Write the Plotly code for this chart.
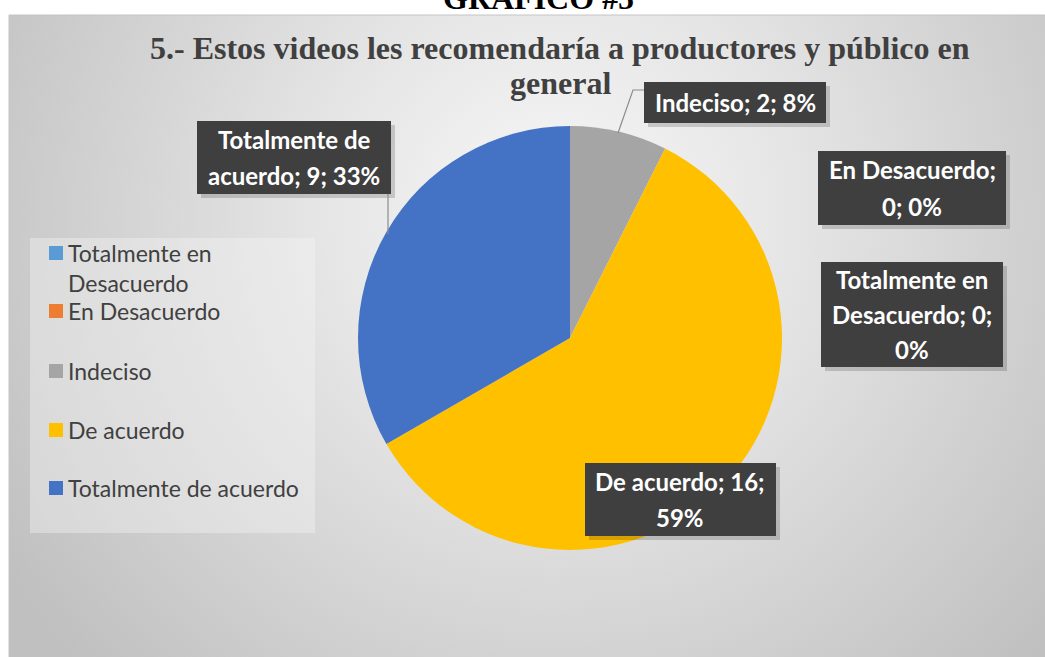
import base64
import plotly.graph_objects as go

# ---------------- data ----------------
categories = ["Totalmente en Desacuerdo", "En Desacuerdo", "Indeciso", "De acuerdo", "Totalmente de acuerdo"]
values = [0, 0, 2, 16, 9]
percent_labels = ["0%", "0%", "8%", "59%", "33%"]
colors = ["#5B9BD5", "#ED7D31", "#A5A5A5", "#FFC000", "#4472C4"]
title_lines = ["5.- Estos videos les recomendaría a productores y público en", "general"]
header_text = "GRÁFICO #5"

W, H = 1045, 657
def px(x):
    return x / W
def py(y):
    return 1 - y / H

# ---------------- background gradient (svg image) ----------------
bx0, by0, bx1, by1 = 9, 15, 1046, 658
bw, bh = bx1 - bx0, by1 - by0
svg = f'''<svg xmlns="http://www.w3.org/2000/svg" width="{bw}" height="{bh}" viewBox="0 0 {bw} {bh}">
<defs><radialGradient id="g" gradientUnits="userSpaceOnUse" cx="545" cy="200" r="650">
<stop offset="0" stop-color="#f7f7f7"/><stop offset="0.35" stop-color="#e6e6e6"/><stop offset="1" stop-color="#c0c0c0"/>
</radialGradient></defs>
<rect x="0" y="0" width="{bw}" height="{bh}" fill="url(#g)"/></svg>'''
svg_uri = "data:image/svg+xml;base64," + base64.b64encode(svg.encode()).decode()

fig = go.Figure()

cx, cy, r = 570, 338, 212
fig.add_trace(go.Pie(
    labels=categories,
    values=values,
    sort=False,
    direction="clockwise",
    rotation=0,
    marker=dict(colors=colors, line=dict(width=0)),
    textinfo="none",
    textposition="none",
    hoverinfo="label+value+percent",
    showlegend=False,
    domain=dict(x=[px(cx - r), px(cx + r)], y=[py(cy + r), py(cy - r)]),
))

shapes = []
annotations = []

# chart border
shapes.append(dict(type="rect", xref="paper", yref="paper", x0=px(bx0), x1=px(bx1), y0=py(by1), y1=py(by0),
                   line=dict(color="#c4c4c4", width=1), fillcolor="rgba(0,0,0,0)", layer="below"))

# ---------------- legend (manual) ----------------
shapes.append(dict(type="rect", xref="paper", yref="paper", x0=px(30), x1=px(315), y0=py(533), y1=py(238),
                   line=dict(width=0), fillcolor="rgba(245,245,245,0.4)", layer="above"))
legend_y = [253, 311, 371, 430, 488]
legend_text = ["Totalmente en<br>Desacuerdo", "En Desacuerdo", "Indeciso", "De acuerdo", "Totalmente de acuerdo"]
for i, cat in enumerate(categories):
    yc = legend_y[i]
    shapes.append(dict(type="rect", xref="paper", yref="paper", x0=px(49), x1=px(63), y0=py(yc + 7), y1=py(yc - 7),
                       line=dict(width=0), fillcolor=colors[i], layer="above"))
    annotations.append(dict(xref="paper", yref="paper", x=px(66), y=py(yc - 16), xanchor="left", yanchor="top",
                            text=legend_text[i], showarrow=False, align="left",
                            font=dict(family="Lato", size=23, color="#404040")))

# ---------------- data labels ----------------
label_boxes = {
    "Indeciso": (644, 82, 826, 123),
    "En Desacuerdo": (818, 151, 1006, 225),
    "Totalmente en Desacuerdo": (821, 262, 1003, 367),
    "De acuerdo": (585, 463, 776, 536),
    "Totalmente de acuerdo": (197, 121, 391, 194),
}
label_lines = {
    "Indeciso": None,
    "En Desacuerdo": ["En Desacuerdo;", "0; 0%"],
    "Totalmente en Desacuerdo": ["Totalmente en", "Desacuerdo; 0;", "0%"],
    "De acuerdo": ["De acuerdo; 16;", "59%"],
    "Totalmente de acuerdo": ["Totalmente de", "acuerdo; 9; 33%"],
}
for i, cat in enumerate(categories):
    x0, y0, x1, y1 = label_boxes[cat]
    shapes.append(dict(type="rect", xref="paper", yref="paper", x0=px(x0 + 4), x1=px(x1 + 4), y0=py(y1 + 4), y1=py(y0 + 4),
                       line=dict(width=0), fillcolor="rgba(0,0,0,0.16)", layer="above"))
    shapes.append(dict(type="rect", xref="paper", yref="paper", x0=px(x0), x1=px(x1), y0=py(y1), y1=py(y0),
                       line=dict(width=0), fillcolor="#3f3f3f", layer="above"))
    full = f"{cat}; {values[i]}; {percent_labels[i]}"
    lines = label_lines[cat] or [full]
    n = len(lines)
    step = (y1 - y0) / n
    for k, ln in enumerate(lines):
        annotations.append(dict(xref="paper", yref="paper", x=px((x0 + x1) / 2), y=py(y0 + step * (k + 0.5)),
                                xanchor="center", yanchor="middle", text=ln, showarrow=False,
                                font=dict(family="Lato", size=24, color="white", weight="bold")))

# leader lines
shapes.append(dict(type="path", xref="paper", yref="paper",
                   path=f"M {px(644)} {py(90)} L {px(633)} {py(90)} L {px(618)} {py(133)}",
                   line=dict(color="#8c8c8c", width=1.2), layer="above"))
shapes.append(dict(type="line", xref="paper", yref="paper", x0=px(388), x1=px(388), y0=py(194), y1=py(234),
                   line=dict(color="#8c8c8c", width=1.2), layer="above"))

# ---------------- titles ----------------
title_y = [48, 83]
for ln, ty in zip(title_lines, title_y):
    annotations.append(dict(xref="paper", yref="paper", x=px(560), y=py(ty), xanchor="center", yanchor="middle",
                            text=ln, showarrow=False,
                            font=dict(family="Liberation Serif", size=32, color="#404040", weight="bold")))
annotations.append(dict(xref="paper", yref="paper", x=px(538), y=py(-2.5), xanchor="center", yanchor="middle",
                        text=header_text, showarrow=False,
                        font=dict(family="Liberation Serif", size=32, color="#000000", weight="bold")))

fig.update_layout(
    width=W, height=H,
    margin=dict(l=0, r=0, t=0, b=0),
    paper_bgcolor="white",
    plot_bgcolor="white",
    images=[dict(source=svg_uri, xref="paper", yref="paper", x=px(bx0), y=py(by0),
                 sizex=bw / W, sizey=bh / H, xanchor="left", yanchor="top", sizing="stretch", layer="below")],
    shapes=shapes,
    annotations=annotations,
    showlegend=False,
)

fig.write_html("out.html", config={"displayModeBar": False},
               post_script="document.body.style.margin='0';")
